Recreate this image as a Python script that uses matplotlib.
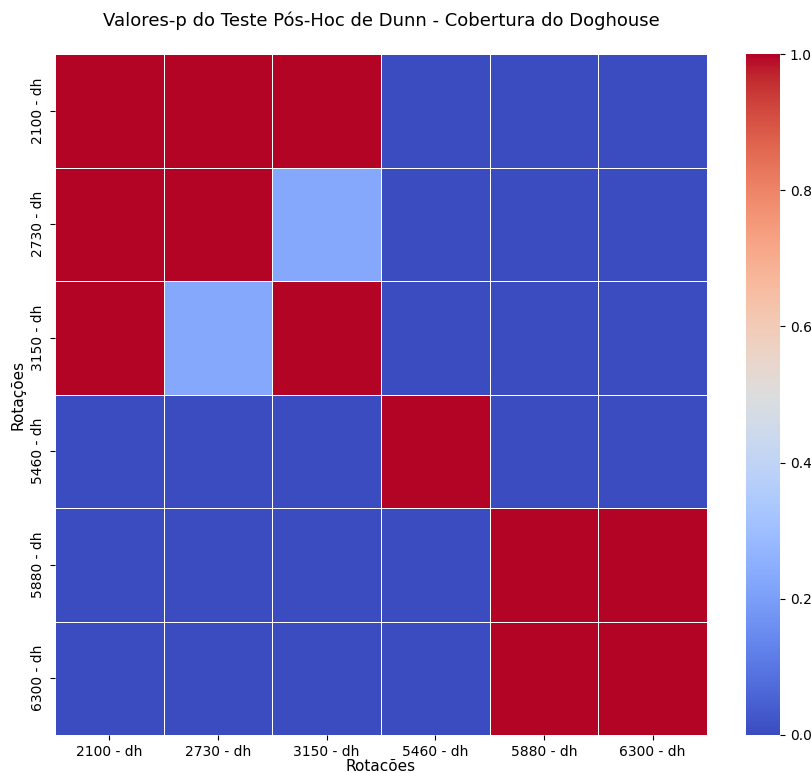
import numpy as np
import pandas as pd
import matplotlib
matplotlib.use("Agg")
import matplotlib.pyplot as plt
import seaborn as sns

rotacoes = ["2100 - dh", "2730 - dh", "3150 - dh", "5460 - dh", "5880 - dh", "6300 - dh"]

# p-valores do teste de Dunn, linha por linha
p_2100 = [1.0, 1.0, 1.0, 0.0, 0.0, 0.0]
p_2730 = [1.0, 1.0, 0.23, 0.0, 0.0, 0.0]
p_3150 = [1.0, 0.23, 1.0, 0.0, 0.0, 0.0]
p_5460 = [0.0, 0.0, 0.0, 1.0, 0.0, 0.0]
p_5880 = [0.0, 0.0, 0.0, 0.0, 1.0, 1.0]
p_6300 = [0.0, 0.0, 0.0, 0.0, 1.0, 1.0]

df = pd.DataFrame([p_2100, p_2730, p_3150, p_5460, p_5880, p_6300],
                  index=rotacoes, columns=rotacoes)

fig = plt.figure(figsize=(8.11, 7.73), dpi=100)
ax = fig.add_axes([55 / 811, 1 - 735 / 773, (707 - 55) / 811, (735 - 54) / 773])
cax = fig.add_axes([746 / 811, 1 - 735 / 773, (780 - 746) / 811, (735 - 54) / 773])

sns.heatmap(df, cmap="coolwarm", vmin=0, vmax=1, linewidths=0.5,
            linecolor="white", ax=ax, cbar_ax=cax)
ax.set_title("Valores-p do Teste Pós-Hoc de Dunn - Cobertura do Doghouse",
             fontsize=13, pad=20)
ax.set_xlabel("Rotacões", fontsize=11, labelpad=0)
ax.set_ylabel("Rotações", fontsize=11)
ax.tick_params(axis="y", rotation=90)
for lbl in ax.get_yticklabels():
    lbl.set_va("center")

fig.savefig("out.png", dpi=100)
